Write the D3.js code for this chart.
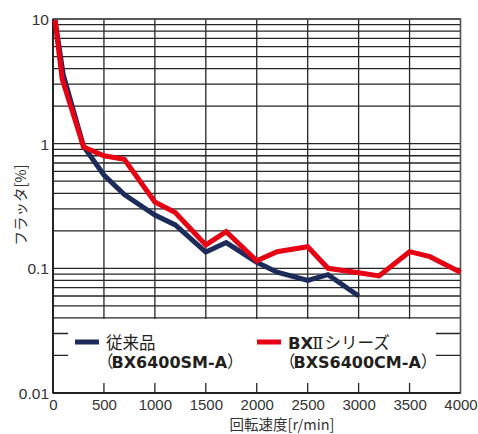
<!DOCTYPE html>
<html>
<head>
<meta charset="utf-8">
<script src="https://cdn.jsdelivr.net/npm/d3@7"></script>
<style>
  html, body { margin: 0; padding: 0; background: #fff; }
  svg { display: block; }
</style>
</head>
<body>
<svg id="chart" width="478" height="434"></svg>
<script>
// Rotation speed [r/min] and flutter [%] for each motor series
const speedConventional = [20, 100, 300, 500, 700, 1000, 1200, 1500, 1700, 2000, 2200, 2500, 2700, 3000];
const flutterConventional = [9.8, 3.6, 0.95, 0.56, 0.39, 0.268, 0.223, 0.135, 0.161, 0.112, 0.093, 0.080, 0.089, 0.060];

const speedBX2 = [20, 90, 300, 500, 700, 1000, 1200, 1500, 1700, 2000, 2200, 2500, 2700, 3000, 3200, 3500, 3700, 4000];
const flutterBX2 = [9.8, 3.3, 0.94, 0.80, 0.75, 0.34, 0.28, 0.154, 0.197, 0.115, 0.136, 0.149, 0.100, 0.092, 0.087, 0.136, 0.124, 0.093];

const xTicks = [0, 500, 1000, 1500, 2000, 2500, 3000, 3500, 4000];
const yTicks = [0.01, 0.1, 1, 10];
const yTickLabels = ["0.01", "0.1", "1", "10"];

const seriesNames = ["従来品", "BXⅡシリーズ"];
const seriesModels = ["BX6400SM-A", "BXS6400CM-A"];

(function () {
  const svg = d3.select("#chart");
  const plotL = 53, plotR = 460.5, plotT = 19, plotB = 393;

  const x = d3.scaleLinear().domain([0, 4000]).range([plotL, plotR]);
  const y = d3.scaleLog().domain([0.01, 10]).range([plotB, plotT]);

  const gridColor = "#262626";

  // horizontal grid: 1..9 within each decade
  const hGrid = [];
  for (let p = -2; p <= 0; p++) {
    for (let m = 1; m <= 9; m++) hGrid.push(m * Math.pow(10, p));
  }
  hGrid.push(10);

  svg.append("g").selectAll("line").data(hGrid).join("line")
    .attr("x1", plotL).attr("x2", plotR)
    .attr("y1", d => y(d)).attr("y2", d => y(d))
    .attr("stroke", gridColor).attr("stroke-width", 1.3);

  svg.append("g").selectAll("line").data(xTicks).join("line")
    .attr("x1", d => x(d)).attr("x2", d => x(d))
    .attr("y1", plotT).attr("y2", plotB)
    .attr("stroke", gridColor).attr("stroke-width", 1.3);

  // legend panel masks the grid in the lowest decade
  const lg = { x0: 68, x1: 436, y0: 319, y1: 383 };
  svg.append("rect")
    .attr("x", lg.x0).attr("y", lg.y0)
    .attr("width", lg.x1 - lg.x0).attr("height", lg.y1 - lg.y0)
    .attr("fill", "#fff");

  // frame
  svg.append("rect")
    .attr("x", plotL).attr("y", plotT)
    .attr("width", plotR - plotL).attr("height", plotB - plotT)
    .attr("fill", "none").attr("stroke", "#555").attr("stroke-width", 1.3);
  svg.append("line").attr("x1", plotL).attr("x2", plotL).attr("y1", plotT).attr("y2", plotB)
    .attr("stroke", "#111").attr("stroke-width", 1.5);
  svg.append("line").attr("x1", plotL).attr("x2", plotR).attr("y1", plotB).attr("y2", plotB)
    .attr("stroke", "#111").attr("stroke-width", 1.5);

  // axes (labels only; grid drawn above)
  const tickFont = "'Liberation Sans', Arial, sans-serif";
  const gx = svg.append("g").attr("transform", `translate(0,${plotB})`)
    .call(d3.axisBottom(x).tickValues(xTicks).tickSize(0).tickFormat(d3.format("d")));
  gx.select(".domain").remove();
  gx.selectAll("text").attr("y", 16.5).attr("dy", 0)
    .attr("font-family", tickFont).attr("font-size", 15).attr("fill", "#333");

  const gy = svg.append("g").attr("transform", "translate(49,0)")
    .call(d3.axisLeft(y).tickValues(yTicks).tickSize(0).tickFormat((d, i) => yTickLabels[i]));
  gy.select(".domain").remove();
  gy.selectAll("text").attr("x", 0).attr("dy", "0.35em")
    .attr("font-family", tickFont).attr("font-size", 15.5).attr("fill", "#333");

  // axis titles
  const jpFont = "'Noto Sans CJK JP', 'Noto Sans', sans-serif";
  svg.append("text")
    .attr("x", 282).attr("y", 429.8)
    .attr("text-anchor", "middle")
    .attr("font-family", jpFont).attr("font-size", 14.5).attr("fill", "#333")
    .text("回転速度[r/min]");

  svg.append("text")
    .attr("transform", "translate(26,205) rotate(-90)")
    .attr("text-anchor", "middle")
    .attr("font-family", jpFont).attr("font-size", 14.5).attr("fill", "#333")
    .text("フラッタ[%]");

  // series lines
  const colors = ["#1d2b5b", "#e60013"];
  const series = [
    speedConventional.map((s, i) => [s, flutterConventional[i]]),
    speedBX2.map((s, i) => [s, flutterBX2[i]])
  ];
  const line = d3.line().x(d => x(d[0])).y(d => y(d[1]));

  svg.append("g").selectAll("path").data(series).join("path")
    .attr("d", line)
    .attr("fill", "none")
    .attr("stroke", (d, i) => colors[i])
    .attr("stroke-width", 5)
    .attr("stroke-linejoin", "miter")
    .attr("stroke-miterlimit", 6);

  // legend
  const legendX = [75, 257];
  const legend = svg.append("g");
  seriesNames.forEach((name, i) => {
    const lx = legendX[i];
    legend.append("line")
      .attr("x1", lx).attr("x2", lx + 24)
      .attr("y1", 342).attr("y2", 342)
      .attr("stroke", colors[i]).attr("stroke-width", 5);

    const t1 = legend.append("text")
      .attr("x", lx + 31).attr("y", 349)
      .attr("font-family", jpFont).attr("font-size", 16.5).attr("fill", "#231f20");
    if (i === 1) {
      t1.append("tspan").attr("font-family", "'DejaVu Sans', sans-serif")
        .attr("font-weight", "bold").text("BX");
      t1.append("tspan").attr("dx", -1).attr("font-family", "'DejaVu Serif', serif").text("Ⅱ");
      t1.append("tspan").attr("dx", 1).text("シリーズ");
    } else {
      t1.text(name);
    }

    const t2 = legend.append("text")
      .attr("x", lx + 22).attr("y", 368)
      .attr("font-family", jpFont).attr("font-size", 16.5).attr("fill", "#231f20");
    t2.append("tspan").text("（");
    t2.append("tspan").attr("font-family", "'DejaVu Sans', sans-serif")
      .attr("font-weight", "bold").attr("font-size", 16).attr("dx", -2).text(seriesModels[i]);
    t2.append("tspan").text("）");
  });
})();
</script>
</body>
</html>
